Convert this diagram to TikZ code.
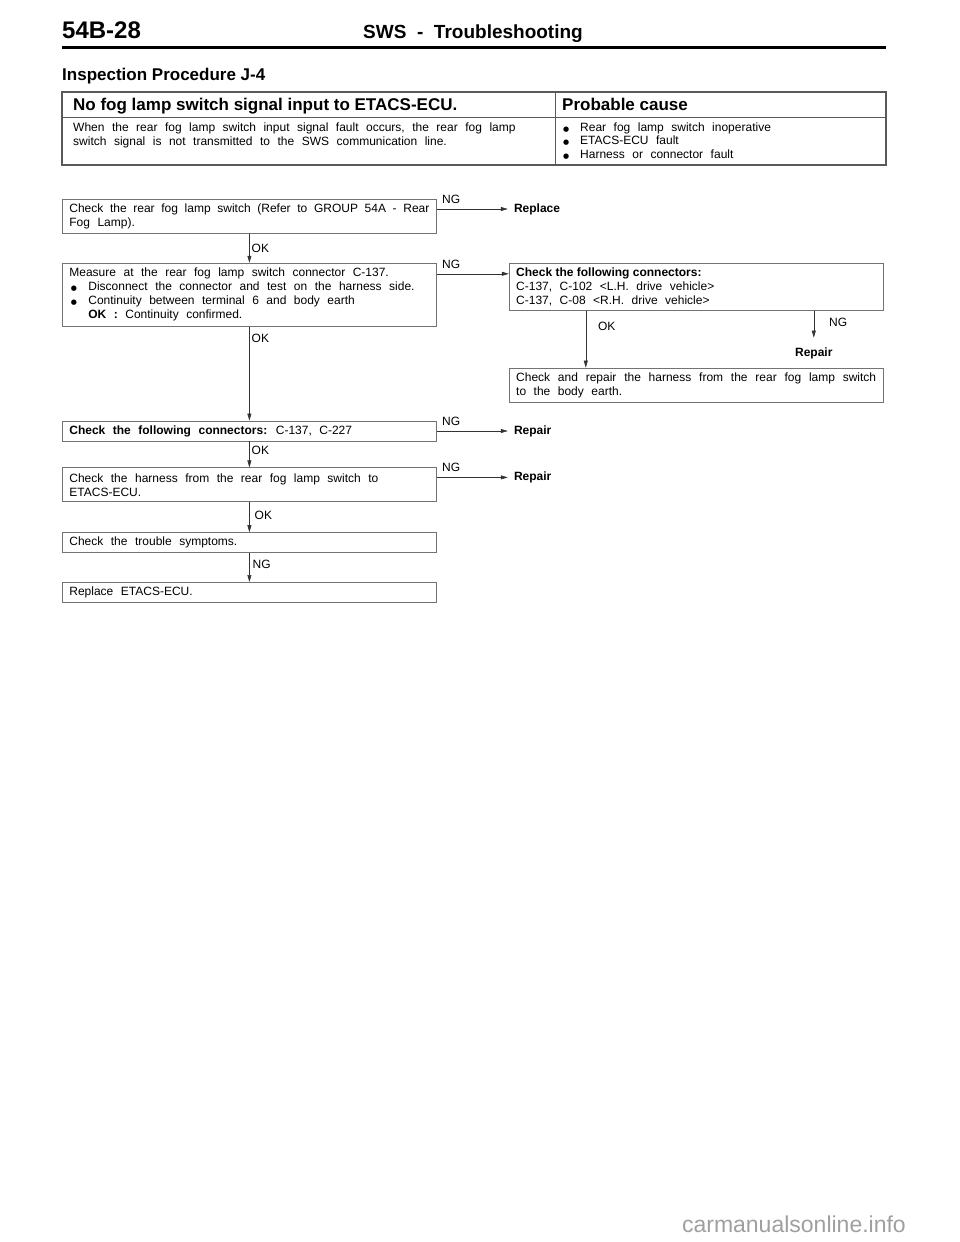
\documentclass[tikz,border=0pt]{standalone}
\usepackage{fontspec}
\setmainfont{Liberation Sans}[WordSpace=2.25]
\newfontfamily\hdfont{Liberation Sans}
\newfontfamily\symfont{DejaVu Sans}
\usepackage{tikz}
\usetikzlibrary{positioning}
\usetikzlibrary{arrows.meta}

\definecolor{boxgray}{gray}{0.45}
\definecolor{tabgray}{gray}{0.35}
\newcommand{\bul}{{\symfont\fontsize{7}{7}\selectfont ●}}
\newcommand{\bfs}{\fontsize{12}{14}\selectfont}

\begin{document}
\begin{tikzpicture}[x=1pt,y=-1pt]
	\tikzset{chk/.style={draw=boxgray,line width=0.8pt,text width=360pt,
			inner xsep=7pt,inner ysep=0pt,align=left,anchor=north west,font=\bfs,
			execute at begin node={\spaceskip=0pt\xspaceskip=0pt}},
		res/.style={font=\bfs\bfseries,inner sep=0pt,anchor=west},
		lbl/.style={font=\bfs,inner sep=2pt},
		nglbl/.style={lbl,anchor=south west,xshift=3pt,yshift=3pt},
		arr/.style={draw=black!80,line width=0.6pt,-{Triangle[length=7pt,width=4pt]}}}

\useasboundingbox (0,0) rectangle (960,1242);

% page header
\node[anchor=base west,inner sep=0pt,font=\hdfont\fontsize{24}{24}\selectfont\bfseries] (page) at (62,38) {54B-28};
\node[anchor=base,inner sep=0pt,font=\hdfont\fontsize{19}{19}\selectfont\bfseries] (title) at (473,38.5) {SWS\ \ -\ \ Troubleshooting};
\draw[line width=2.8pt] (62,47.5) -- (886,47.5);
\node[anchor=base west,inner sep=0pt,font=\hdfont\fontsize{17}{17}\selectfont\bfseries] (proc) at (62,80.5) {Inspection Procedure J-4};

% symptom table
\draw[tabgray,line width=1.2pt] (62,92) rectangle (886,165);
\draw[tabgray,line width=0.8pt] (62,117) -- (886,117) (555,92) -- (555,165);
\node[anchor=base west,inner sep=0pt,font=\hdfont\fontsize{17}{17}\selectfont\bfseries] (symhead) at (73,110) {No fog lamp switch signal input to ETACS-ECU.};
\node[anchor=base west,inner sep=0pt,font=\hdfont\fontsize{17}{17}\selectfont\bfseries] (causehead) at (562,110) {Probable cause};
\node[anchor=north west,inner sep=0pt,align=left,font=\bfs] (symp) at (73,122.5)
	{When the rear fog lamp switch input signal fault occurs, the rear fog lamp\\
	 switch signal is not transmitted to the SWS communication line.};
\node[anchor=north west,inner sep=0pt,align=left,font=\fontsize{12}{13.5}\selectfont] (cause) at (563,122.5)
	{\makebox[17pt][l]{\bul}Rear fog lamp switch inoperative\\
	 \makebox[17pt][l]{\bul}ETACS-ECU fault\\
	 \makebox[17pt][l]{\bul}Harness or connector fault};

% main column
\node[chk,minimum height=34pt] (b1) at (62,199)
	{\makebox[360pt][s]{Check the rear fog lamp switch (Refer to GROUP 54A - Rear}\\Fog Lamp).};
\node[chk,minimum height=63pt] (b2) [below=29pt of b1]
	{Measure at the rear fog lamp switch connector C-137.\\
	 \makebox[19pt][l]{\hspace{1.5pt}\bul}Disconnect the connector and test on the harness side.\\
	 \makebox[19pt][l]{\hspace{1.5pt}\bul}Continuity between terminal 6 and body earth\\
	 \hspace*{19pt}\textbf{OK :} Continuity confirmed.};
\node[chk,minimum height=20pt] (b5) [below=94pt of b2]
	{\textbf{Check the following connectors:} C-137, C-227};
\node[chk,minimum height=34pt] (b6) [below=26pt of b5]
	{Check the harness from the rear fog lamp switch to\\ETACS-ECU.};
\node[chk,minimum height=20pt] (b7) [below=30pt of b6] {Check the trouble symptoms.};
\node[chk,minimum height=20pt] (b8) [below=29pt of b7] {Replace ETACS-ECU.};

% right branch
\node[chk,minimum height=47pt] (b3) [right=72pt of b2.north east,anchor=north west]
	{{\hdfont\bfseries Check the following connectors:}\\
	 C-137, C-102 <L.H. drive vehicle>\\
	 C-137, C-08 <R.H. drive vehicle>};
\node[chk,minimum height=34pt] (b4) [below=57pt of b3]
	{\makebox[360pt][s]{Check and repair the harness from the rear fog lamp switch}\\to the body earth.};

\node[res] (rep1) [right=77pt of b1.north east,yshift=-10pt] {Replace};
\node[res,anchor=north] (rep3) [below=37pt of b3.south west,xshift=305pt] {Repair};
\node[res] (rep5) [right=77pt of b5] {Repair};
\node[res] (rep6) [right=77pt of b6.north east,yshift=-10pt] {Repair};

% connectors
\draw[arr] (b1) -- node[lbl,right]{OK} (b2);
\draw[arr] (b2) -- node[lbl,right,pos=0.12]{OK} (b5);
\draw[arr] (b5) -- node[lbl,right,pos=0.35]{OK} (b6);
\draw[arr] (b6) -- node[lbl,right,pos=0.43,xshift=3pt]{OK} (b7);
\draw[arr] (b7) -- node[lbl,right,pos=0.38,xshift=1pt]{NG} (b8);

\draw[arr,shorten >=6pt] (b1.east |- rep1) -- node[nglbl,pos=0]{NG} (rep1.west);
\draw[arr] ([yshift=-11pt]b2.north east) -- node[nglbl,pos=0]{NG} ([yshift=-11pt]b3.north west);
\draw[arr,shorten >=6pt] (b5) -- node[nglbl,pos=0]{NG} (rep5);
\draw[arr,shorten >=6pt] (b6.east |- rep6) -- node[nglbl,pos=0]{NG} (rep6.west);

\draw[arr] ([xshift=77pt]b3.south west) -- node[lbl,right=10pt,pos=0.28]{OK} ([xshift=77pt]b4.north west);
\draw[arr,shorten >=10pt] ([xshift=305pt]b3.south west) -- node[lbl,right=13pt,pos=0.32]{NG} (rep3.north);

% watermark
\node[anchor=east,inner sep=0pt,text=gray!75,font=\hdfont\fontsize{23}{23}\selectfont] (wm) at (906,1224) {carmanualsonline.info};
\end{tikzpicture}
\end{document}
